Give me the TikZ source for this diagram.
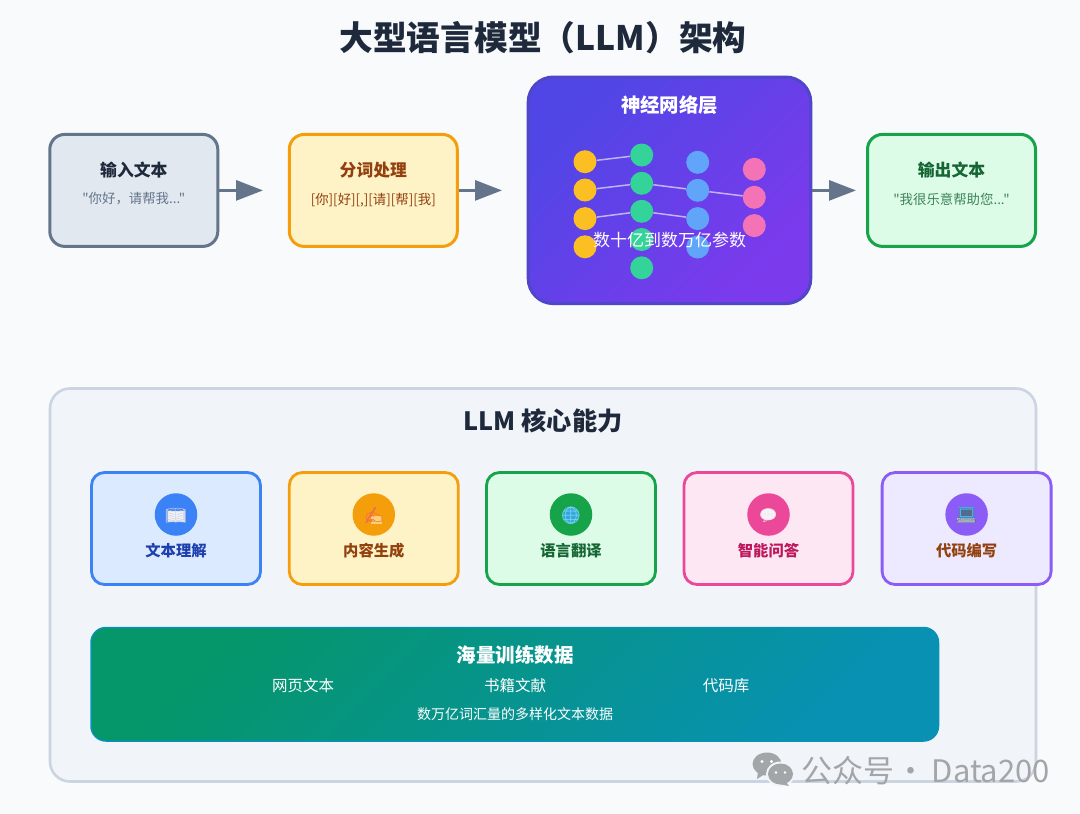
\documentclass[tikz,border=0pt]{standalone}
\usepackage{fontspec}
\setmainfont{Noto Sans CJK SC}
\newfontfamily\plainfont{Noto Sans CJK SC}
\newfontfamily\emojifont{Noto Emoji}
\usetikzlibrary{arrows.meta}
\definecolor{pagebg}{HTML}{F8FAFC}
\definecolor{ink}{HTML}{1E293B}
\definecolor{slate}{HTML}{64748B}
\definecolor{slatefill}{HTML}{E2E8F0}
\definecolor{amberline}{HTML}{F59E0B}
\definecolor{amberfill}{HTML}{FEF3C7}
\definecolor{brownink}{HTML}{92400E}
\definecolor{greenline}{HTML}{16A34A}
\definecolor{greenfill}{HTML}{DCFCE7}
\definecolor{greenink}{HTML}{166534}
\definecolor{blueline}{HTML}{3B82F6}
\definecolor{bluefill}{HTML}{DBEAFE}
\definecolor{blueink}{HTML}{1E40AF}
\definecolor{pinkline}{HTML}{EC4899}
\definecolor{pinkfill}{HTML}{FCE7F3}
\definecolor{pinkink}{HTML}{BE185D}
\definecolor{purpleline}{HTML}{8B5CF6}
\definecolor{purplefill}{HTML}{EDE9FE}
\definecolor{panelfill}{HTML}{F1F5F9}
\definecolor{panelline}{HTML}{CBD5E1}
\definecolor{indigoA}{HTML}{4F46E5}
\definecolor{indigoB}{HTML}{7C3AED}
\definecolor{indigoline}{HTML}{4F46C8}
\definecolor{teal1}{HTML}{059669}
\definecolor{teal2}{HTML}{0891B2}
\definecolor{neurY}{HTML}{FBBF24}
\definecolor{neurG}{HTML}{34D399}
\definecolor{neurB}{HTML}{60A5FA}
\definecolor{neurP}{HTML}{F472B6}
\definecolor{wmgray}{HTML}{A3A6A8}
\definecolor{emoBook}{HTML}{C3CCE2}
\definecolor{emoHand}{HTML}{EE6F4A}
\definecolor{emoGlobe}{HTML}{7FDDF2}
\definecolor{emoTalk}{HTML}{EFE3EC}
\definecolor{emoLaptop}{HTML}{566A8C}
\definecolor{underBook}{HTML}{F3F3F6}
\definecolor{underHand}{HTML}{FBCF74}
\definecolor{underGlobe}{HTML}{35A5DC}
\definecolor{underTalk}{HTML}{F7F0F5}
\definecolor{underScreen}{HTML}{3EBEF5}
\definecolor{underBase}{HTML}{C6CAD6}
\newcommand{\fs}[1]{\fontsize{#1}{#1}\selectfont}
\tikzset{
  x=1pt,y=-1pt,
  flowbox/.style={draw,line width=3pt,rounded corners=15pt,minimum width=168pt,minimum height=112pt,inner sep=0pt},
  cardbox/.style={draw,line width=2.8pt,rounded corners=13pt,minimum width=169pt,minimum height=112pt,inner sep=0pt},
  icondisc/.style={circle,minimum size=42.5pt,inner sep=0pt},
  icontext/.style={inner sep=0pt,font=\emojifont\fs{17}},
  boxtitle/.style={inner sep=0pt,font=\fs{16.8}\bfseries},
  boxsub/.style={inner sep=0pt,font=\plainfont\fs{13.4}},
  cardlabel/.style={inner sep=0pt,font=\fs{15.3}\bfseries},
  datatext/.style={inner sep=0pt,text=white,font=\fs{15.5}},
  neuron/.style={circle,minimum size=23pt,inner sep=0pt},
  synapse/.style={draw=white,draw opacity=.6,line width=1.5pt},
  flowarrow/.style={draw=slate,line width=3pt,-{Triangle[length=27pt,width=20pt,fill=slate]}},
}
\begin{document}
\begin{tikzpicture}
\useasboundingbox (0,0) rectangle (1080,814);
\fill[pagebg] (0,0) rectangle (1080,814);

\node[inner sep=0pt,text=ink,font=\fs{33.7}\bfseries] (title) at (543,38) {大型语言模型（LLM）架构};

% flow boxes
\node[flowbox,draw=slate,fill=slatefill] (input) at (133.8,190.4) {};
\node[boxtitle,text=ink] (inputT) at (133.8,170.5) {输入文本};
\node[boxsub,text=slate] (inputS) at (133.8,199) {"你好，请帮我..."};

\node[flowbox,draw=amberline,fill=amberfill] (token) at (373.3,190.4) {};
\node[boxtitle,text=brownink] (tokenT) at (373.3,170.5) {分词处理};
\node[boxsub,text=brownink] (tokenS) at (373.3,200) {[你][好][,][请][帮][我]};

\node[flowbox,draw=greenline,fill=greenfill] (output) at (951.5,190.4) {};
\node[boxtitle,text=greenink] (outputT) at (951.5,170.5) {输出文本};
\node[boxsub,text=greenink!80!greenfill] (outputS) at (951.5,199) {"我很乐意帮助您..."};

% neural block
\path[shade,left color=indigoA,right color=indigoB,shading angle=45,draw=indigoline,line width=3pt,rounded corners=25pt]
  (528.2,77) rectangle (810.8,303.6);
\coordinate (neural) at (669.5,190.4);
\coordinate (neuralE) at (812.3,190.4);
\node[inner sep=0pt,text=white,font=\fs{19.4}\bfseries] (neuralT) at (669.5,105.5) {神经网络层};

\foreach \n/\y in {1/161.7,2/190,3/218.6,4/246.8} \node[neuron,fill=neurY] (y\n) at (585,\y) {};
\foreach \n/\y in {1/155,2/183.3,3/211.3,4/239.5,5/267.8} \node[neuron,fill=neurG] (g\n) at (641.7,\y) {};
\foreach \n/\y in {1/162.3,2/190.3,3/218.6,4/247} \node[neuron,fill=neurB] (b\n) at (697.7,\y) {};
\foreach \n/\y in {1/169.3,2/197.3,3/225.6} \node[neuron,fill=neurP] (p\n) at (754.3,\y) {};
\draw[synapse] (y1) -- (g1);
\draw[synapse] (y2) -- (g2);
\draw[synapse] (y3) -- (g3);
\draw[synapse] (g2) -- (b2);
\draw[synapse] (g3) -- (b3);
\draw[synapse] (b2) -- (p2);
\node[inner sep=0pt,text=white,font=\fs{17}] (neuralS) at (669.5,240) {数十亿到数万亿参数};

% arrows
\coordinate (a1end) at (263,190.4);
\coordinate (a2end) at (502,190.4);
\coordinate (a3end) at (856,190.4);
\draw[flowarrow] (input.east) -- (a1end);
\draw[flowarrow] (token.east) -- (a2end);
\draw[flowarrow] (neuralE) -- (a3end);

% capabilities panel
\node[draw=panelline,fill=panelfill,line width=2.6pt,rounded corners=20pt,minimum width=986pt,minimum height=393pt,inner sep=0pt] (panel) at (543,585) {};
\node[inner sep=0pt,text=ink,font=\fs{25.2}\bfseries] (panelT) at (543,421) {LLM 核心能力};

\foreach \name/\cx/\ln/\fl/\ink/\lab in {
  c1/176/blueline/bluefill/blueink/文本理解,
  c2/373.8/amberline/amberfill/brownink/内容生成,
  c3/571/greenline/greenfill/greenink/语言翻译,
  c4/768.5/pinkline/pinkfill/pinkink/智能问答,
  c5/966.6/purpleline/purplefill/brownink/代码编写}{
  \node[cardbox,draw=\ln,fill=\fl] (\name) at (\cx,528.5) {};
  \node[icondisc,fill=\ln] (\name i) at (\cx,514.5) {};
  \node[cardlabel,text=\ink] (\name t) at (\cx,551) {\lab};
}
% colour under the one-colour emoji glyphs
\fill[underBook] (167.5,510.5) rectangle (184.5,522);
\fill[underHand] (371,515.5) rectangle (382,523.5);
\fill[underGlobe] (571,515) circle (8.2pt);
\fill[underTalk] (768,514.5) ellipse [x radius=7.8pt,y radius=5.8pt];
\fill[underScreen] (958.5,507) rectangle (973.5,518);
\fill[underBase] (957,518) rectangle (975,523);
\foreach \name/\cx/\emo/\emc in {
  c1/176/📖/emoBook,
  c2/373.8/✍/emoHand,
  c3/571/🌐/emoGlobe,
  c4/768.5/💬/emoTalk,
  c5/966.6/💻/emoLaptop}{
  \node[icontext,text=\emc] (\name e) at (\cx,516) {\emo};
}

% data block
\path[shade,left color=teal1,right color=teal2,shading angle=45,draw=teal2,line width=1.5pt,rounded corners=15pt]
  (91,627.5) rectangle (938.5,741);
\node[inner sep=0pt,text=white,font=\fs{19.5}\bfseries] (dataT) at (515,655) {海量训练数据};
\node[datatext] (d1) at (303,685.5) {网页文本};
\node[datatext] (d2) at (515,685.5) {书籍文献};
\node[datatext] (d3) at (726,685.5) {代码库};
\node[inner sep=0pt,text=white,font=\fs{14}] (d4) at (515,714) {数万亿词汇量的多样化文本数据};

% watermark
\begin{scope}[wmgray]
  \fill (767,764) ellipse [x radius=14.5pt,y radius=11.5pt];
  \fill (758,772) -- (757,779) -- (765,774) -- cycle;
  \fill[panelfill] (780.5,774) ellipse [x radius=14.5pt,y radius=12.5pt];
  \fill (780.5,774) ellipse [x radius=12.5pt,y radius=10.5pt];
  \fill (786,782) -- (789,786) -- (779,784) -- cycle;
  \fill[white] (762,761.5) circle (1.7pt) (771.5,761.5) circle (1.7pt) (776,772.5) circle (1.4pt) (785,772.5) circle (1.4pt);
\end{scope}
\node[inner sep=0pt,anchor=west,text=wmgray,font=\fs{31}] (wm) at (801.5,771) {公众号\hspace{1pt}·\hspace{5pt}Data200};
\end{tikzpicture}
\end{document}
